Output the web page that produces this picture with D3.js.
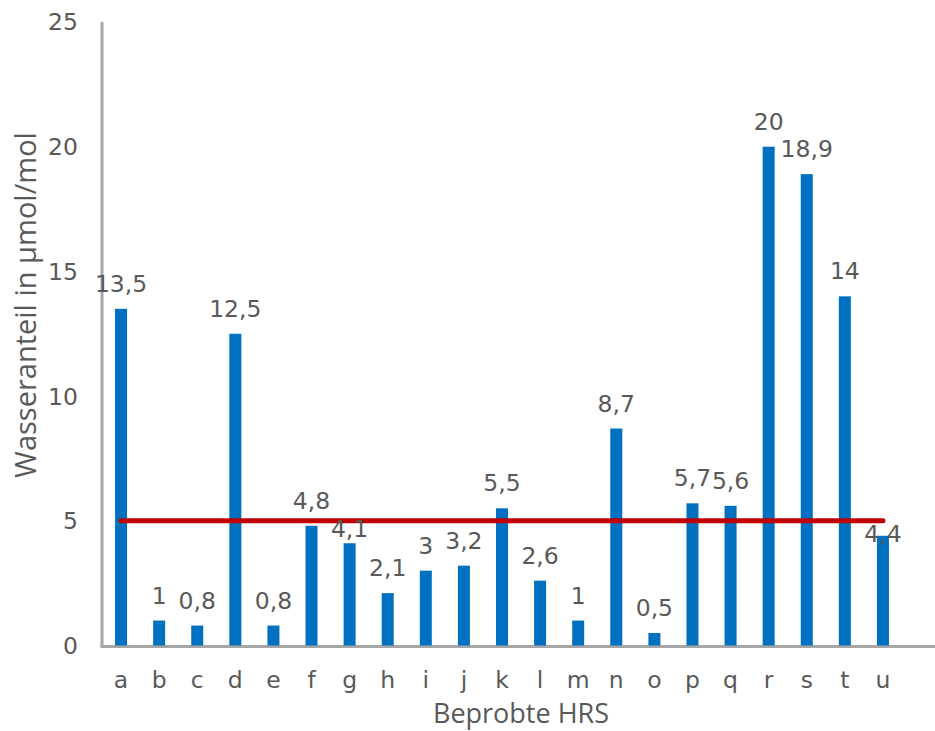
<!DOCTYPE html>
<html>
<head>
<meta charset="utf-8">
<script src="https://cdn.jsdelivr.net/npm/d3@7/dist/d3.min.js"></script>
<style>
  html, body { margin: 0; padding: 0; background: #fff; }
  svg { display: block; }
</style>
</head>
<body>
<svg id="chart" width="935" height="731"></svg>
<script>
// Probed hydrogen refuelling stations and their measured water content
const stations = ["a","b","c","d","e","f","g","h","i","j","k","l","m","n","o","p","q","r","s","t","u"];
const waterContent = [13.5, 1, 0.8, 12.5, 0.8, 4.8, 4.1, 2.1, 3, 3.2, 5.5, 2.6, 1, 8.7, 0.5, 5.7, 5.6, 20, 18.9, 14, 4.4];
const limitValue = 5;
const yTicks = [0, 5, 10, 15, 20, 25];

const xTitle = "Beprobte HRS";
const yTitle = "Wasseranteil in µmol/mol";

const textColor = "#595959";
const axisColor = "#A6A6A6";
const barColor = "#0070C0";
const limitColor = "#C00000";
const numFont = "'DejaVu Sans', Verdana, sans-serif";
const titleFont = "'Open Sans', 'Segoe UI', sans-serif";
const numSize = 23.5;

const svg = d3.select("#chart");

const x = d3.scaleBand().domain(stations).range([102, 902]).padding(0);
const y = d3.scaleLinear().domain([0, 25]).range([645.5, 22]);
const barW = 12;
const cx = d => x(d) + x.bandwidth() / 2;

const fmt = v => String(v).replace(".", ",");

// Axis lines
svg.append("line")
  .attr("x1", 102).attr("x2", 102)
  .attr("y1", y(25)).attr("y2", y(0) + 1.5)
  .attr("stroke", axisColor).attr("stroke-width", 3);
svg.append("line")
  .attr("x1", 100.5).attr("x2", 935)
  .attr("y1", y(0) + 1).attr("y2", y(0) + 1)
  .attr("stroke", axisColor).attr("stroke-width", 3);

// Y tick labels
svg.append("g").selectAll("text").data(yTicks).join("text")
  .attr("x", 78).attr("y", d => y(d))
  .attr("dy", "0.36em")
  .attr("text-anchor", "end")
  .attr("font-family", numFont).attr("font-size", numSize)
  .attr("fill", textColor)
  .text(d => d);

// X tick labels
svg.append("g").selectAll("text").data(stations).join("text")
  .attr("x", cx).attr("y", 688)
  .attr("text-anchor", "middle")
  .attr("font-family", numFont).attr("font-size", numSize)
  .attr("fill", textColor)
  .text(d => d);

// Bars
const rows = stations.map((s, i) => ({ s, v: waterContent[i] }));
svg.append("g").selectAll("rect").data(rows).join("rect")
  .attr("x", d => cx(d.s) - barW / 2)
  .attr("y", d => y(d.v))
  .attr("width", barW)
  .attr("height", d => y(0) - y(d.v))
  .attr("fill", barColor);

// Limit line
svg.append("line")
  .attr("x1", cx(stations[0]))
  .attr("x2", cx(stations[stations.length - 1]))
  .attr("y1", y(limitValue)).attr("y2", y(limitValue))
  .attr("stroke", limitColor).attr("stroke-width", 5)
  .attr("stroke-linecap", "round");

// Value labels (a few moved down to sit beside the limit line)
const labelNudge = { g: 11, u: 23 };
svg.append("g").selectAll("text").data(rows).join("text")
  .attr("x", d => cx(d.s))
  .attr("y", d => y(d.v) - 17 + (labelNudge[d.s] || 0))
  .attr("text-anchor", "middle")
  .attr("font-family", numFont).attr("font-size", numSize)
  .attr("fill", textColor)
  .text(d => fmt(d.v));

// Axis titles
svg.append("text")
  .attr("x", 521).attr("y", 723)
  .attr("text-anchor", "middle")
  .attr("font-family", titleFont).attr("font-size", 27)
  .attr("fill", textColor)
  .text(xTitle);

svg.append("text")
  .attr("transform", "translate(36,305) rotate(-90)")
  .attr("text-anchor", "middle")
  .attr("font-family", titleFont).attr("font-size", 29)
  .attr("fill", textColor)
  .text(yTitle);
</script>
</body>
</html>
